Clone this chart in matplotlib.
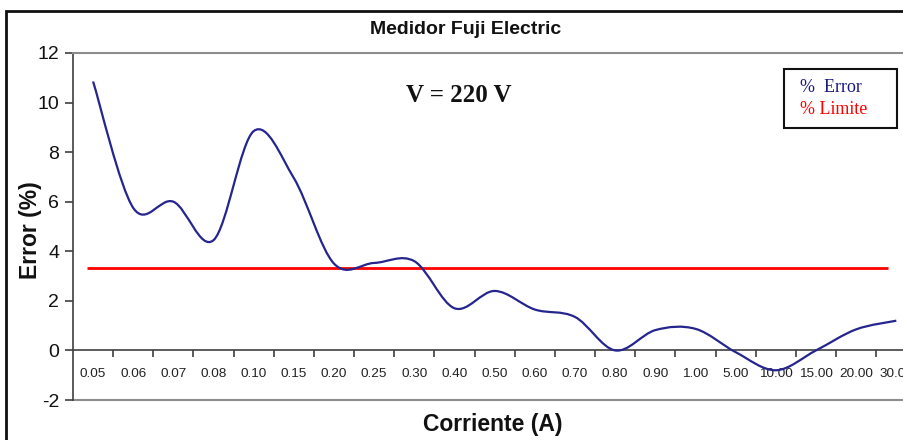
import matplotlib
matplotlib.use('Agg')
import matplotlib.pyplot as plt
from matplotlib.path import Path
from matplotlib.patches import PathPatch, Rectangle
import numpy as np

# ---- data ----
categories = ['0.05', '0.06', '0.07', '0.08', '0.10', '0.15', '0.20', '0.25', '0.30',
              '0.40', '0.50', '0.60', '0.70', '0.80', '0.90', '1.00', '5.00', '10.00',
              '15.00', '20.00', '30.00']
error_pct = [10.85, 5.75, 6.0, 4.45, 8.85, 6.95, 3.5, 3.53, 3.6,
             1.7, 2.4, 1.65, 1.35, 0.0, 0.82, 0.87, -0.07, -0.8,
             0.0, 0.85, 1.2]
limit_pct = 3.33
y_ticks = [-2, 0, 2, 4, 6, 8, 10, 12]

title = 'Medidor Fuji Electric'
subtitle = 'V = 220 V'
x_label = 'Corriente (A)'
y_label = 'Error (%)'
legend_labels = ['%  Error', '% Limite']

SANS = 'Liberation Sans'
SERIF = 'Liberation Serif'
LINE_COLOR = '#25258f'
AXIS_COLOR = '#404040'
FRAME_GRAY = '#8c8c8c'


def smooth_path(xs, ys):
    pts = np.column_stack([xs, ys]).astype(float)
    n = len(pts)
    verts = [pts[0]]
    codes = [Path.MOVETO]
    for i in range(n - 1):
        p0 = pts[i - 1] if i > 0 else pts[i]
        p1 = pts[i]
        p2 = pts[i + 1]
        p3 = pts[i + 2] if i + 2 < n else pts[i + 1]
        c1 = p1 + (p2 - p0) / 6.0
        c2 = p2 - (p3 - p1) / 6.0
        verts += [c1, c2, p2]
        codes += [Path.CURVE4] * 3
    return Path(verts, codes)


W, H = 904, 440
fig = plt.figure(figsize=(W / 100, H / 100), dpi=100)
fig.patch.set_facecolor('white')

ax = fig.add_axes([73 / W, 40 / H, 843.4 / W, 347 / H])
ax.set_facecolor('white')
n = len(categories)
ax.set_xlim(-0.5, n - 0.5)
ax.set_ylim(-2, 12)

# series
x = np.arange(n)
ax.add_patch(PathPatch(smooth_path(x, error_pct), facecolor='none',
                       edgecolor=LINE_COLOR, lw=1.6, zorder=3))
ax.hlines(limit_pct, x[0] - 0.15, x[-1] - 0.2, color='#ff0000', lw=2, zorder=2)

# spines
ax.spines['right'].set_visible(False)
ax.spines['top'].set_color(FRAME_GRAY)
ax.spines['top'].set_linewidth(1.5)
ax.spines['left'].set_color(AXIS_COLOR)
ax.spines['left'].set_linewidth(1.2)
ax.spines['bottom'].set_position(('data', 0))
ax.spines['bottom'].set_color(AXIS_COLOR)
ax.spines['bottom'].set_linewidth(1.2)
ax.axhline(-2, color=FRAME_GRAY, lw=1.5, clip_on=False, zorder=1)

# ticks
ax.set_xticks([i + 0.5 for i in range(n - 1)])
ax.set_xticklabels([])
ax.set_xticks(range(n), labels=categories, minor=True)
ax.tick_params(axis='x', which='major', direction='out', length=5,
               width=1.2, color=AXIS_COLOR)
ax.tick_params(axis='x', which='minor', length=0, pad=13, labelsize=9.7,
               labelcolor='#222222')
for lbl in ax.get_xticklabels(minor=True):
    lbl.set_family(SANS)

ax.set_yticks(y_ticks)
ax.set_yticklabels([str(v) for v in y_ticks])
ax.tick_params(axis='y', direction='out', length=6, width=1.2,
               color=AXIS_COLOR, pad=4, labelsize=14, labelcolor='#111111')
for lbl in ax.get_yticklabels():
    lbl.set_family(SANS)

# outer chart frame
fig.patches.append(Rectangle((6.5 / W, -0.1), 1.2, 0.1 + (H - 11) / H,
                             transform=fig.transFigure, fill=False,
                             edgecolor='#111111', lw=2, zorder=0))

# texts
fig.text(465.5 / W, 1 - 29 / H, title, ha='center', va='center',
         fontsize=14, fontweight='bold', family=SANS, color='#111111')
fig.text(459 / W, 1 - 96 / H, subtitle, ha='center', va='center',
         fontsize=18, fontweight='bold', family=SERIF, color='#111111')
fig.text(30 / W, 1 - 230 / H, y_label, ha='center', va='center', rotation=90,
         fontsize=16.5, fontweight='bold', family=SANS, color='#111111')
fig.text(493 / W, 1 - 424 / H, x_label, ha='center', va='center',
         fontsize=16.5, fontweight='bold', family=SANS, color='#111111')

# legend box
fig.patches.append(Rectangle((784 / W, 1 - 128 / H), 113 / W, 59 / H,
                             transform=fig.transFigure, facecolor='white',
                             edgecolor='#111111', lw=1.5, zorder=4))
fig.text(800 / W, 1 - 88 / H, legend_labels[0], ha='left', va='center',
         fontsize=13, family=SERIF, color='#1a1a80', zorder=5)
fig.text(800 / W, 1 - 110 / H, legend_labels[1], ha='left', va='center',
         fontsize=13, family=SERIF, color='#ff0000', zorder=5)

fig.savefig('out.png', dpi=100, facecolor='white')
